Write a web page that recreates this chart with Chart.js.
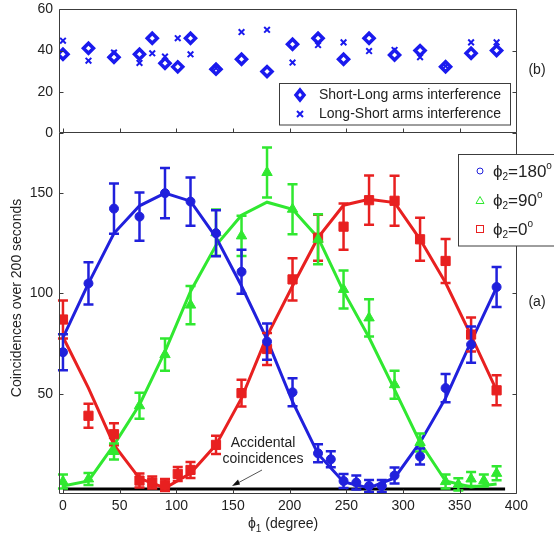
<!DOCTYPE html>
<html>
<head>
<meta charset="utf-8">
<script src="https://cdn.jsdelivr.net/npm/chart.js@4.4.0/dist/chart.umd.min.js"></script>
<style>
  html, body { margin: 0; padding: 0; background: #fff; }
  #wrap { position: relative; width: 554px; height: 540px; overflow: hidden; }
  #wrap canvas { position: absolute; left: 0; top: 0; }
  #wrap #chartB { top: -5px; }
</style>
</head>
<body>
<div id="wrap">
  <canvas id="chartA" width="554" height="540"></canvas>
  <canvas id="chartB" width="554" height="545"></canvas>
</div>
<script>
// ---- panel (b): visibility ----
var topAngles = [0, 22.5, 45, 67.5, 78.75, 90, 101.25, 112.5, 135, 157.5, 180, 202.5, 225, 247.5, 270, 292.5, 315, 337.5, 360, 382.5];
var shortLong = [38.2, 41.1, 36.8, 38.2, 46.0, 33.9, 32.1, 46.0, 31.0, 35.8, 29.8, 43.1, 46.0, 35.8, 46.0, 37.9, 40.0, 32.2, 38.7, 40.0];
var longShort = [44.8, 35.1, 39.0, 34.0, 38.7, 37.1, 46.0, 38.2, 31.5, 49.0, 50.1, 34.2, 42.7, 44.0, 39.8, 40.3, 36.8, 32.5, 44.0, 44.0];

// ---- panel (a): coincidences ----
var blueAngles = [0, 22.5, 45, 67.5, 90, 112.5, 135, 157.5, 180, 202.5, 225, 236.25, 247.5, 258.75, 270, 281.25, 292.5, 315, 337.5, 360, 382.5];
var blueCounts = [70.7, 105, 142.3, 138.3, 150, 145.8, 130, 110.8, 76, 50.7, 20.3, 17.3, 6.5, 5.7, 4, 4, 9.2, 18.7, 52.8, 74.5, 103.2];
var blueErr    = [9, 10.5, 12.5, 12, 12.5, 12, 11.5, 11, 9, 7, 4.5, 4, 3.5, 3.5, 3, 3, 4, 4, 7, 9, 10];

var greenAngles = [0, 22.5, 45, 67.5, 90, 112.5, 135, 157.5, 180, 202.5, 225, 247.5, 270, 292.5, 315, 337.5, 348.75, 360, 371.25, 382.5];
var greenCounts = [6.2, 7.5, 21.2, 44, 69.5, 94.2, 130.3, 128.7, 160.3, 142, 127, 102, 87.8, 54.5, 25.7, 6.2, 4.8, 7.5, 6.7, 10.3];
var greenErr    = [3.5, 3, 4, 6.5, 8, 9.5, 11.5, 10, 12.5, 12.5, 12.5, 9.5, 9.3, 7, 4.5, 3.5, 3, 3.5, 3, 3.5];

var redAngles = [0, 22.5, 45, 67.5, 78.75, 90, 101.25, 112.5, 135, 157.5, 180, 202.5, 225, 247.5, 270, 292.5, 315, 337.5, 360, 382.5];
var redCounts = [87, 39, 29.8, 6.7, 5.7, 4.5, 10, 12, 24.5, 50.3, 72.3, 107, 127.8, 133.3, 146.5, 146.2, 127, 116.2, 79.5, 51.7];
var redErr    = [9.5, 6, 5.5, 3.5, 3, 3, 3.5, 4, 4.5, 6.7, 8, 10.5, 11.5, 11.5, 12.3, 12.5, 10.7, 11, 8.5, 7.5];

// fitted curves
var fitAngles = [0, 22.5, 45, 67.5, 90, 112.5, 135, 157.5, 180, 202.5, 225, 247.5, 270, 292.5, 315, 337.5, 360, 382.5];
var blueFit  = [78, 105, 130, 143.7, 150, 146, 128, 103.7, 77, 46, 20, 6, 3, 8, 25.7, 47.8, 76, 103];
var greenFit = [4, 6.5, 24.5, 44.5, 71, 101, 124, 139, 145.5, 142, 127.8, 101, 78, 52, 25.7, 6.5, 3.5, 5];
var redFit   = [78.3, 52.8, 24.5, 7.8, 3, 10.3, 24.5, 47.8, 78.7, 103.7, 127.8, 144, 147, 145.3, 127, 105.3, 79, 51.7];

var accidentalAngles = [0, 390];
var accidentalCounts = [2.5, 2.5];

var xTicks = [0, 50, 100, 150, 200, 250, 300, 350, 400];
var topYTicks = [0, 20, 40, 60];
var bottomYTicks = [50, 100, 150];

var BLUE = '#2020dc', GREEN = '#30e830', RED = '#e82020', MARK = '#1a1aee';
var FONT = '"Liberation Sans", Arial, sans-serif';
var TXT = '#222';

function pts(xs, ys) {
  return xs.map(function (x, i) { return { x: x, y: ys[i] }; });
}

function fixedTicks(list) {
  return function (scale) { scale.ticks = list.map(function (v) { return { value: v }; }); };
}

// error bars drawn just before each point dataset
var errorBars = {
  id: 'errorBars',
  beforeDatasetDraw: function (chart, args) {
    var ds = chart.data.datasets[args.index];
    if (!ds.errors) return;
    var ctx = chart.ctx, xs = chart.scales.x, ys = chart.scales.y;
    ctx.save();
    ctx.strokeStyle = ds.borderColor;
    ctx.lineWidth = 2.5;
    ds.data.forEach(function (p, i) {
      var px = xs.getPixelForValue(p.x);
      var t = ys.getPixelForValue(p.y + ds.errors[i]);
      var b = ys.getPixelForValue(p.y - ds.errors[i]);
      ctx.beginPath();
      ctx.moveTo(px, t); ctx.lineTo(px, b);
      ctx.moveTo(px - 5, t); ctx.lineTo(px + 5, t);
      ctx.moveTo(px - 5, b); ctx.lineTo(px + 5, b);
      ctx.stroke();
    });
    ctx.restore();
  }
};

// matlab-like box with inward ticks
var frame = {
  id: 'frame',
  afterDraw: function (chart, args, o) {
    var a = chart.chartArea, ctx = chart.ctx, xs = chart.scales.x, ys = chart.scales.y;
    var L = Math.round(a.left) + 0.5, R = Math.round(a.right) - 0.5;
    var T = Math.round(a.top) + 0.5, B = Math.round(a.bottom) - 0.5;
    ctx.save();
    ctx.strokeStyle = '#3c3c3c';
    ctx.lineWidth = 1;
    ctx.beginPath();
    ctx.moveTo(L, o.top ? T : a.top); ctx.lineTo(L, B); ctx.lineTo(R, B); ctx.lineTo(R, o.top ? T : a.top);
    if (o.top) { ctx.lineTo(L, T); }
    o.xTicks.forEach(function (v) {
      var px = Math.round(xs.getPixelForValue(v)) + 0.5;
      ctx.moveTo(px, B); ctx.lineTo(px, B - 4);
    });
    o.yTicks.forEach(function (v) {
      var py = Math.round(ys.getPixelForValue(v)) + 0.5;
      ctx.moveTo(L, py); ctx.lineTo(L + 4, py);
      ctx.moveTo(R, py); ctx.lineTo(R - 4, py);
    });
    ctx.stroke();
    ctx.restore();
  }
};

function phiText(ctx, x, y, sub, rest, sup, big, small) {
  ctx.textAlign = 'left';
  ctx.textBaseline = 'middle';
  ctx.font = big + 'px ' + FONT;
  ctx.fillText('\u03d5', x, y);
  x += ctx.measureText('\u03d5').width;
  ctx.font = small + 'px ' + FONT;
  ctx.fillText(sub, x, y + 5);
  x += ctx.measureText(sub).width;
  ctx.font = big + 'px ' + FONT;
  ctx.fillText(rest, x, y);
  x += ctx.measureText(rest).width;
  if (sup) {
    ctx.font = (small) + 'px ' + FONT;
    ctx.fillText(sup, x, y - 6);
  }
}

// top chart canvas sits 5px higher, so its decorations add 5
var topDecor = {
  id: 'topDecor',
  afterDraw: function (chart) {
    var ctx = chart.ctx;
    ctx.save();
    ctx.translate(0, 5);
    ctx.fillStyle = '#fff';
    ctx.fillRect(279.5, 83.5, 231, 41.5);
    ctx.strokeStyle = '#3c3c3c';
    ctx.lineWidth = 1;
    ctx.strokeRect(279.5, 83.5, 231, 41.5);
    // diamond
    ctx.strokeStyle = MARK;
    ctx.lineWidth = 3.5;
    ctx.beginPath();
    ctx.moveTo(300, 95 - 5); ctx.lineTo(304, 95); ctx.lineTo(300, 95 + 5); ctx.lineTo(296, 95); ctx.closePath();
    ctx.stroke();
    // cross
    ctx.lineWidth = 2;
    ctx.beginPath();
    ctx.moveTo(297, 111); ctx.lineTo(303, 117);
    ctx.moveTo(303, 111); ctx.lineTo(297, 117);
    ctx.stroke();
    ctx.fillStyle = TXT;
    ctx.font = '14px ' + FONT;
    ctx.textAlign = 'left';
    ctx.textBaseline = 'middle';
    ctx.fillText('Short-Long arms interference', 319, 95);
    ctx.fillText('Long-Short arms interference', 319, 114);
    ctx.textAlign = 'center';
    ctx.fillText('(b)', 537, 70);
    ctx.restore();
  }
};

var bottomDecor = {
  id: 'bottomDecor',
  afterDraw: function (chart) {
    var ctx = chart.ctx;
    ctx.save();
    ctx.fillStyle = TXT;
    ctx.font = '14px ' + FONT;
    ctx.textBaseline = 'middle';
    ctx.textAlign = 'center';
    ctx.fillText('(a)', 537, 302);
    ctx.fillText('Accidental', 263, 443);
    ctx.fillText('coincidences', 263, 459);
    // y label
    ctx.save();
    ctx.translate(17, 298);
    ctx.rotate(-Math.PI / 2);
    ctx.fillText('Coincidences over 200 seconds', 0, 0);
    ctx.restore();
    // x label
    phiText(ctx, 248, 524, '1', ' (degree)', null, 14, 10);
    // arrow
    ctx.strokeStyle = '#555';
    ctx.lineWidth = 1;
    ctx.beginPath();
    ctx.moveTo(262, 470); ctx.lineTo(236, 484);
    ctx.stroke();
    ctx.fillStyle = '#111';
    ctx.beginPath();
    ctx.moveTo(232, 486); ctx.lineTo(238, 479.5); ctx.lineTo(240, 484.5); ctx.closePath();
    ctx.fill();
    // legend
    ctx.fillStyle = '#fff';
    ctx.fillRect(458.5, 154.5, 100, 91.5);
    ctx.strokeStyle = '#3c3c3c';
    ctx.strokeRect(458.5, 154.5, 100, 91.5);
    ctx.lineWidth = 1;
    ctx.strokeStyle = BLUE;
    ctx.beginPath(); ctx.arc(480, 171, 3, 0, Math.PI * 2); ctx.stroke();
    ctx.strokeStyle = GREEN;
    ctx.beginPath(); ctx.moveTo(480, 196.5); ctx.lineTo(484, 203.5); ctx.lineTo(476, 203.5); ctx.closePath(); ctx.stroke();
    ctx.strokeStyle = RED;
    ctx.strokeRect(476.5, 225.5, 7, 7);
    ctx.fillStyle = TXT;
    phiText(ctx, 493, 172, '2', '=180', 'o', 17, 10);
    phiText(ctx, 493, 201, '2', '=90', 'o', 17, 10);
    phiText(ctx, 493, 230, '2', '=0', 'o', 17, 10);
    ctx.restore();
  }
};

var tickFont = { family: FONT, size: 14 };

function xScale(show) {
  var s = {
    type: 'linear', min: -3.5, max: 400.5,
    display: show,
    afterBuildTicks: fixedTicks(xTicks),
    grid: { display: false, drawTicks: false },
    border: { display: false },
    ticks: { font: tickFont, color: TXT, padding: 4, maxRotation: 0 }
  };
  if (show) s.afterFit = function (sc) { sc.height = 46; };
  return s;
}

function yScale(max, list) {
  return {
    type: 'linear', min: 0, max: max,
    afterBuildTicks: fixedTicks(list),
    afterFit: function (s) { s.width = 59; },
    grid: { display: false, drawTicks: false },
    border: { display: false },
    ticks: { font: tickFont, color: TXT, padding: 6 }
  };
}

// bottom panel (a)
new Chart(document.getElementById('chartA'), {
  data: {
    datasets: [
      { type: 'scatter', data: pts(blueAngles, blueCounts), errors: blueErr,
        borderColor: BLUE, backgroundColor: BLUE, pointStyle: 'circle', pointRadius: 4.5, borderWidth: 1 },
      { type: 'scatter', data: pts(greenAngles, greenCounts), errors: greenErr,
        borderColor: GREEN, backgroundColor: GREEN, pointStyle: 'triangle', pointRadius: 6, borderWidth: 1 },
      { type: 'scatter', data: pts(redAngles, redCounts), errors: redErr,
        borderColor: RED, backgroundColor: RED, pointStyle: 'rect', pointRadius: 6.5, borderWidth: 1 },
      { type: 'line', data: pts(fitAngles, blueFit), borderColor: BLUE, borderWidth: 3, pointRadius: 0, fill: false },
      { type: 'line', data: pts(fitAngles, greenFit), borderColor: GREEN, borderWidth: 3, pointRadius: 0, fill: false },
      { type: 'line', data: pts(fitAngles, redFit), borderColor: RED, borderWidth: 3, pointRadius: 0, fill: false },
      { type: 'line', data: pts(accidentalAngles, accidentalCounts), borderColor: '#000', borderWidth: 3, pointRadius: 0, fill: false }
    ]
  },
  options: {
    responsive: false,
    animation: false,
    devicePixelRatio: 1,
    layout: { padding: { top: 133, right: 37, bottom: 0, left: 0 } },
    plugins: {
      legend: { display: false },
      tooltip: { enabled: false },
      frame: { top: false, xTicks: xTicks, yTicks: bottomYTicks }
    },
    scales: {
      x: xScale(true),
      y: yScale(180, bottomYTicks)
    }
  },
  plugins: [errorBars, frame, bottomDecor]
});

// top panel (b)
new Chart(document.getElementById('chartB'), {
  type: 'scatter',
  data: {
    datasets: [
      { label: 'Long-Short arms interference', data: pts(topAngles, longShort),
        borderColor: MARK, backgroundColor: MARK, pointStyle: 'crossRot', pointRadius: 4, borderWidth: 2 },
      { label: 'Short-Long arms interference', data: pts(topAngles, shortLong),
        borderColor: MARK, backgroundColor: '#fff', pointStyle: 'rectRot', pointRadius: 5, borderWidth: 3.5 }
    ]
  },
  options: {
    responsive: false,
    animation: false,
    devicePixelRatio: 1,
    layout: { padding: { top: 9, right: 37, bottom: 407, left: 0 } },
    plugins: {
      legend: { display: false },
      tooltip: { enabled: false },
      frame: { top: true, xTicks: xTicks, yTicks: topYTicks }
    },
    scales: {
      x: xScale(false),
      y: yScale(60, topYTicks)
    }
  },
  plugins: [frame, topDecor]
});
</script>
</body>
</html>
